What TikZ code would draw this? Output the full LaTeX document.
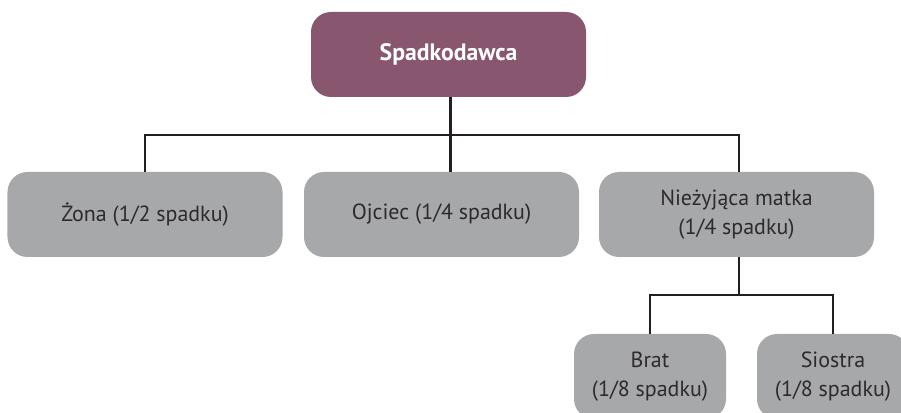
\documentclass[tikz,border=0pt]{standalone}
\usepackage{fontspec}
\setmainfont{PT Sans}
\usepackage{xcolor}
\usepackage{tikz}
\usetikzlibrary{calc}
\definecolor{heirpurple}{RGB}{137,86,111}
\definecolor{heirgray}{RGB}{167,168,170}
\definecolor{heirtext}{RGB}{45,42,43}
\definecolor{heirline}{RGB}{35,31,32}
\tikzset{
	rootbox/.style={
			fill=heirpurple, draw=none, rounded corners=0.4cm,
			minimum width=5.5cm, minimum height=1.7cm,
			text=white, font=\fontsize{13.5}{16}\selectfont\bfseries, align=center
		},
	heirbox/.style={
			fill=heirgray, draw=none, rounded corners=0.4cm,
			minimum width=#1, minimum height=1.7cm,
			text=heirtext, font=\fontsize{12.5}{16.5}\selectfont, align=center
		},
	heirbox/.default=5.5cm,
	link/.style={draw=heirline, line width=1.2pt}
}

\begin{document}
\begin{tikzpicture}
		\useasboundingbox (0,0) rectangle (18.02,8.26);
		\node[rootbox] (spadkodawca) at (8.97,7.17) {Spadkodawca};
		\node[heirbox] (zona) at (2.9,3.97) {Żona (1/2 spadku)};
		\node[heirbox] (ojciec) at (8.83,3.97) {Ojciec (1/4 spadku)};
		\node[heirbox] (matka) at (14.73,3.97) {Nieżyjąca matka\\(1/4 spadku)};
		\node[heirbox=3.04cm] (brat) at (13.0,0.73) {Brat\\(1/8 spadku)};
		\node[heirbox=3.04cm] (siostra) at (16.66,0.73) {Siostra\\(1/8 spadku)};
		\coordinate (bus) at (0,5.56);
		\coordinate (subbus) at (0,2.36);
		% first generation
		\draw[link] ($(spadkodawca.south)+(0.04,0)$) -- ($(spadkodawca.south |- ojciec.north)+(0.04,0)$);
		\draw[link] (zona.north) -- (zona.north |- bus) -- ($(matka.north |- bus)+(0.05,0)$) -- ($(matka.north)+(0.05,0)$);
		% children of the mother
		\draw[link] ($(matka.south)+(0.05,0)$) -- ($(matka.south |- subbus)+(0.05,0)$);
		\draw[link] (brat.north) -- (brat.north |- subbus) -- (siostra.north |- subbus) -- (siostra.north);
	\end{tikzpicture}
\end{document}
